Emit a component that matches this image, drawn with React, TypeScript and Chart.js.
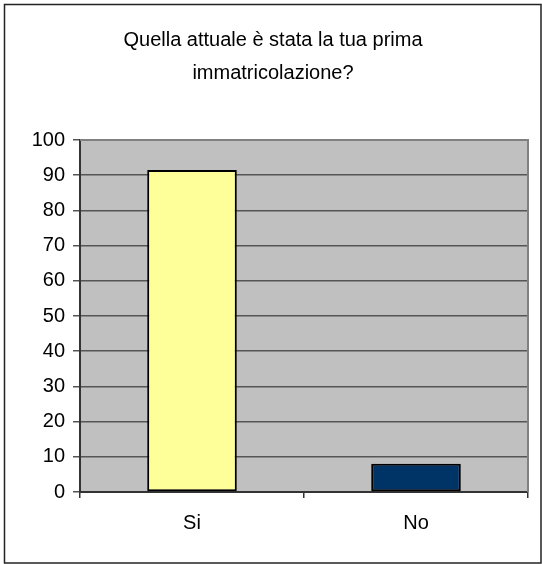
import React, { useEffect, useRef } from "react";
import { Chart, registerables } from "chart.js";

Chart.register(...registerables);

const titleLines = ["Quella attuale è stata la tua prima", "immatricolazione?"];
const categories = ["Si", "No"];
const values = [91.5, 8.0];
const barColors = ["#FFFF99", "#003366"];
const yMin = 0;
const yMax = 100;
const yStep = 10;

const FONT = "'Liberation Sans', Arial, sans-serif";

const framePlugin = {
  id: "framePlugin",
  beforeDraw(chart: any) {
    const { ctx, chartArea, width, height } = chart;
    ctx.save();
    ctx.fillStyle = "#FFFFFF";
    ctx.fillRect(0, 0, width, height);
    ctx.strokeStyle = "#222222";
    ctx.lineWidth = 1.5;
    ctx.strokeRect(4.5, 4.5, width - 5.5, height - 5.5);
    ctx.fillStyle = "#C0C0C0";
    ctx.fillRect(chartArea.left, chartArea.top, chartArea.right - chartArea.left, chartArea.bottom - chartArea.top);
    ctx.restore();
  },
  afterDatasetsDraw(chart: any) {
    const { ctx, chartArea } = chart;
    ctx.save();
    ctx.strokeStyle = "#808080";
    ctx.lineWidth = 2;
    ctx.beginPath();
    ctx.moveTo(chartArea.left, chartArea.top);
    ctx.lineTo(chartArea.right, chartArea.top);
    ctx.lineTo(chartArea.right, chartArea.bottom);
    ctx.stroke();
    ctx.restore();
  },
};

export default function App() {
  const ref = useRef<HTMLCanvasElement | null>(null);
  useEffect(() => {
    if (!ref.current) return;
    const chart = new Chart(ref.current, {
      type: "bar",
      data: {
        labels: categories,
        datasets: [
          {
            data: values,
            backgroundColor: barColors,
            borderColor: "#000000",
            borderWidth: 2,
            borderSkipped: false,
            barPercentage: 0.4,
            categoryPercentage: 1,
          },
        ],
      },
      options: {
        responsive: false,
        animation: false,
        events: [],
        layout: { padding: { top: 0, left: 18, right: 14, bottom: 0 } },
        plugins: {
          legend: { display: false },
          tooltip: { enabled: false },
          title: {
            display: true,
            text: titleLines,
            color: "#000000",
            font: { family: FONT, size: 20, weight: "normal", lineHeight: 1.65 },
            padding: { top: 24, bottom: 50 },
          },
        },
        scales: {
          x: {
            offset: true,
            grid: {
              offset: true,
              drawOnChartArea: false,
              drawTicks: true,
              tickLength: 6,
              color: "#333333",
              lineWidth: 1.5,
            },
            border: { display: true, color: "#333333", width: 2 },
            ticks: {
              color: "#000000",
              font: { family: FONT, size: 20 },
              padding: 13,
            },
            afterFit(scale: any) {
              scale.height = 72;
            },
          },
          y: {
            min: yMin,
            max: yMax,
            ticks: {
              stepSize: yStep,
              color: "#000000",
              font: { family: FONT, size: 20 },
              padding: 8,
            },
            grid: {
              color: "#555555",
              lineWidth: 1.5,
              tickLength: 7,
              drawTicks: true,
            },
            border: { display: true, color: "#333333", width: 2 },
            afterFit(scale: any) {
              scale.width = 62;
            },
          },
        },
      },
      plugins: [framePlugin],
    });
    return () => chart.destroy();
  }, []);
  return (
    <div style={{ position: "absolute", left: 0, top: 0, width: 542, height: 564 }}>
      <canvas ref={ref} width={542} height={564} style={{ display: "block", width: 542, height: 564 }} />
    </div>
  );
}
